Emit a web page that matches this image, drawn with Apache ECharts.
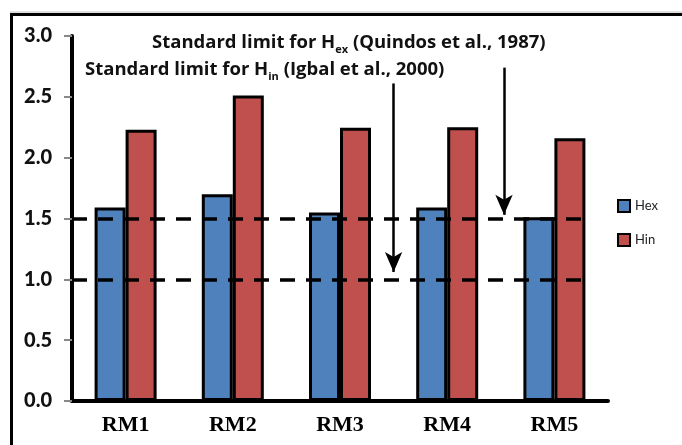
<!DOCTYPE html>
<html>
<head>
<meta charset="utf-8">
<script src="https://cdn.jsdelivr.net/npm/echarts@6/dist/echarts.min.js"></script>
<style>html,body{margin:0;padding:0;background:#fff}#c{width:682px;height:445px}</style>
</head>
<body>
<div id="c"></div>
<script>
const categories = ['RM1', 'RM2', 'RM3', 'RM4', 'RM5'];
const hexValues = [1.59, 1.70, 1.55, 1.59, 1.51];
const hinValues = [2.23, 2.51, 2.245, 2.25, 2.16];
const seriesNames = ['Hex', 'Hin'];
const limitValues = [1.5, 1.0];
// annotation arrows: x position in category units (0..5), start and end y values
const arrowX = [3.0, 4.03];
const arrowFrom = [2.61, 2.74];
const arrowTo = [1.06, 1.53];

const chart = echarts.init(document.getElementById('c'));

const limitLineData = limitValues.map(v => [{coord: [0, v]}, {coord: [4.85, v]}]);
const arrowData = arrowX.map((x, i) => [{coord: [x, arrowFrom[i]]}, {coord: [x, arrowTo[i]]}]);

const richStyle = {
  a: {fontFamily: 'Open Sans', fontWeight: 'bold', fontSize: 18.5, fill: '#111', verticalAlign: 'top', lineHeight: 22},
  s: {fontFamily: 'Open Sans', fontWeight: 'bold', fontSize: 11, fill: '#111', verticalAlign: 'top', lineHeight: 11, padding: [11, 0, 0, 0]}
};

const option = {
  animation: false,
  grid: {left: 72, right: 74, top: 36, bottom: 44},
  legend: {
    orient: 'vertical', left: 617, top: 199, padding: 0,
    itemWidth: 12, itemHeight: 12, itemGap: 20, itemTextGap: 5,
    icon: 'rect',
    data: seriesNames,
    textStyle: {fontFamily: 'Lato', fontSize: 13, color: '#222'}
  },
  xAxis: [{
    type: 'category', data: categories,
    axisLine: {lineStyle: {color: '#000', width: 4}},
    axisTick: {length: 6, lineStyle: {color: '#888', width: 2}},
    axisLabel: {fontFamily: 'Liberation Serif', fontWeight: 'bold', fontSize: 22, color: '#000', margin: 13}
  }, {
    type: 'value', min: 0, max: 5, show: false
  }],
  yAxis: {
    type: 'value', min: 0, max: 3, interval: 0.5,
    axisLine: {show: true, lineStyle: {color: '#000', width: 4}},
    axisTick: {show: true, length: 8, lineStyle: {color: '#888', width: 2}},
    splitLine: {show: false},
    axisLabel: {formatter: v => v.toFixed(1), fontFamily: 'Lato', fontWeight: 900, fontSize: 20, color: '#111', margin: 20}
  },
  series: [{
    name: seriesNames[0], type: 'bar', data: hexValues,
    barWidth: 31, barGap: '0%',
    itemStyle: {color: '#4F81BD', borderColor: '#000', borderWidth: 3}
  }, {
    name: seriesNames[1], type: 'bar', data: hinValues,
    barWidth: 31, barGap: '0%',
    itemStyle: {color: '#C0504D', borderColor: '#000', borderWidth: 3}
  }, {
    name: 'limits', type: 'line', xAxisIndex: 1, yAxisIndex: 0,
    data: [], showSymbol: false, silent: true,
    markLine: {
      silent: true, symbol: 'none', label: {show: false},
      lineStyle: {color: '#000', width: 3.5, type: [15, 11]},
      data: limitLineData
    },
    z: 5
  }, {
    name: 'arrows', type: 'line', xAxisIndex: 1, yAxisIndex: 0,
    data: [], showSymbol: false, silent: true,
    markLine: {
      silent: true, symbol: ['none', 'arrow'], symbolSize: [13, 20], label: {show: false},
      lineStyle: {color: '#000', width: 2.5, type: 'solid'},
      data: arrowData
    },
    z: 6
  }],
  graphic: [{
    type: 'line', shape: {x1: 10, y1: 12, x2: 682, y2: 12},
    style: {stroke: '#bbb', lineWidth: 1}, silent: true
  }, {
    type: 'rect', shape: {x: 11.5, y: 14.5, width: 720, height: 500},
    style: {fill: 'none', stroke: '#000', lineWidth: 3}, silent: true
  }, {
    type: 'text', left: 152, top: 33,
    style: {text: '{a|Standard limit for H}{s|ex}{a| (Quindos et al., 1987)}', rich: richStyle}
  }, {
    type: 'text', left: 85, top: 60,
    style: {text: '{a|Standard limit for H}{s|in}{a| (Igbal et al., 2000)}', rich: richStyle}
  }]
};
chart.setOption(option);
</script>
</body>
</html>
